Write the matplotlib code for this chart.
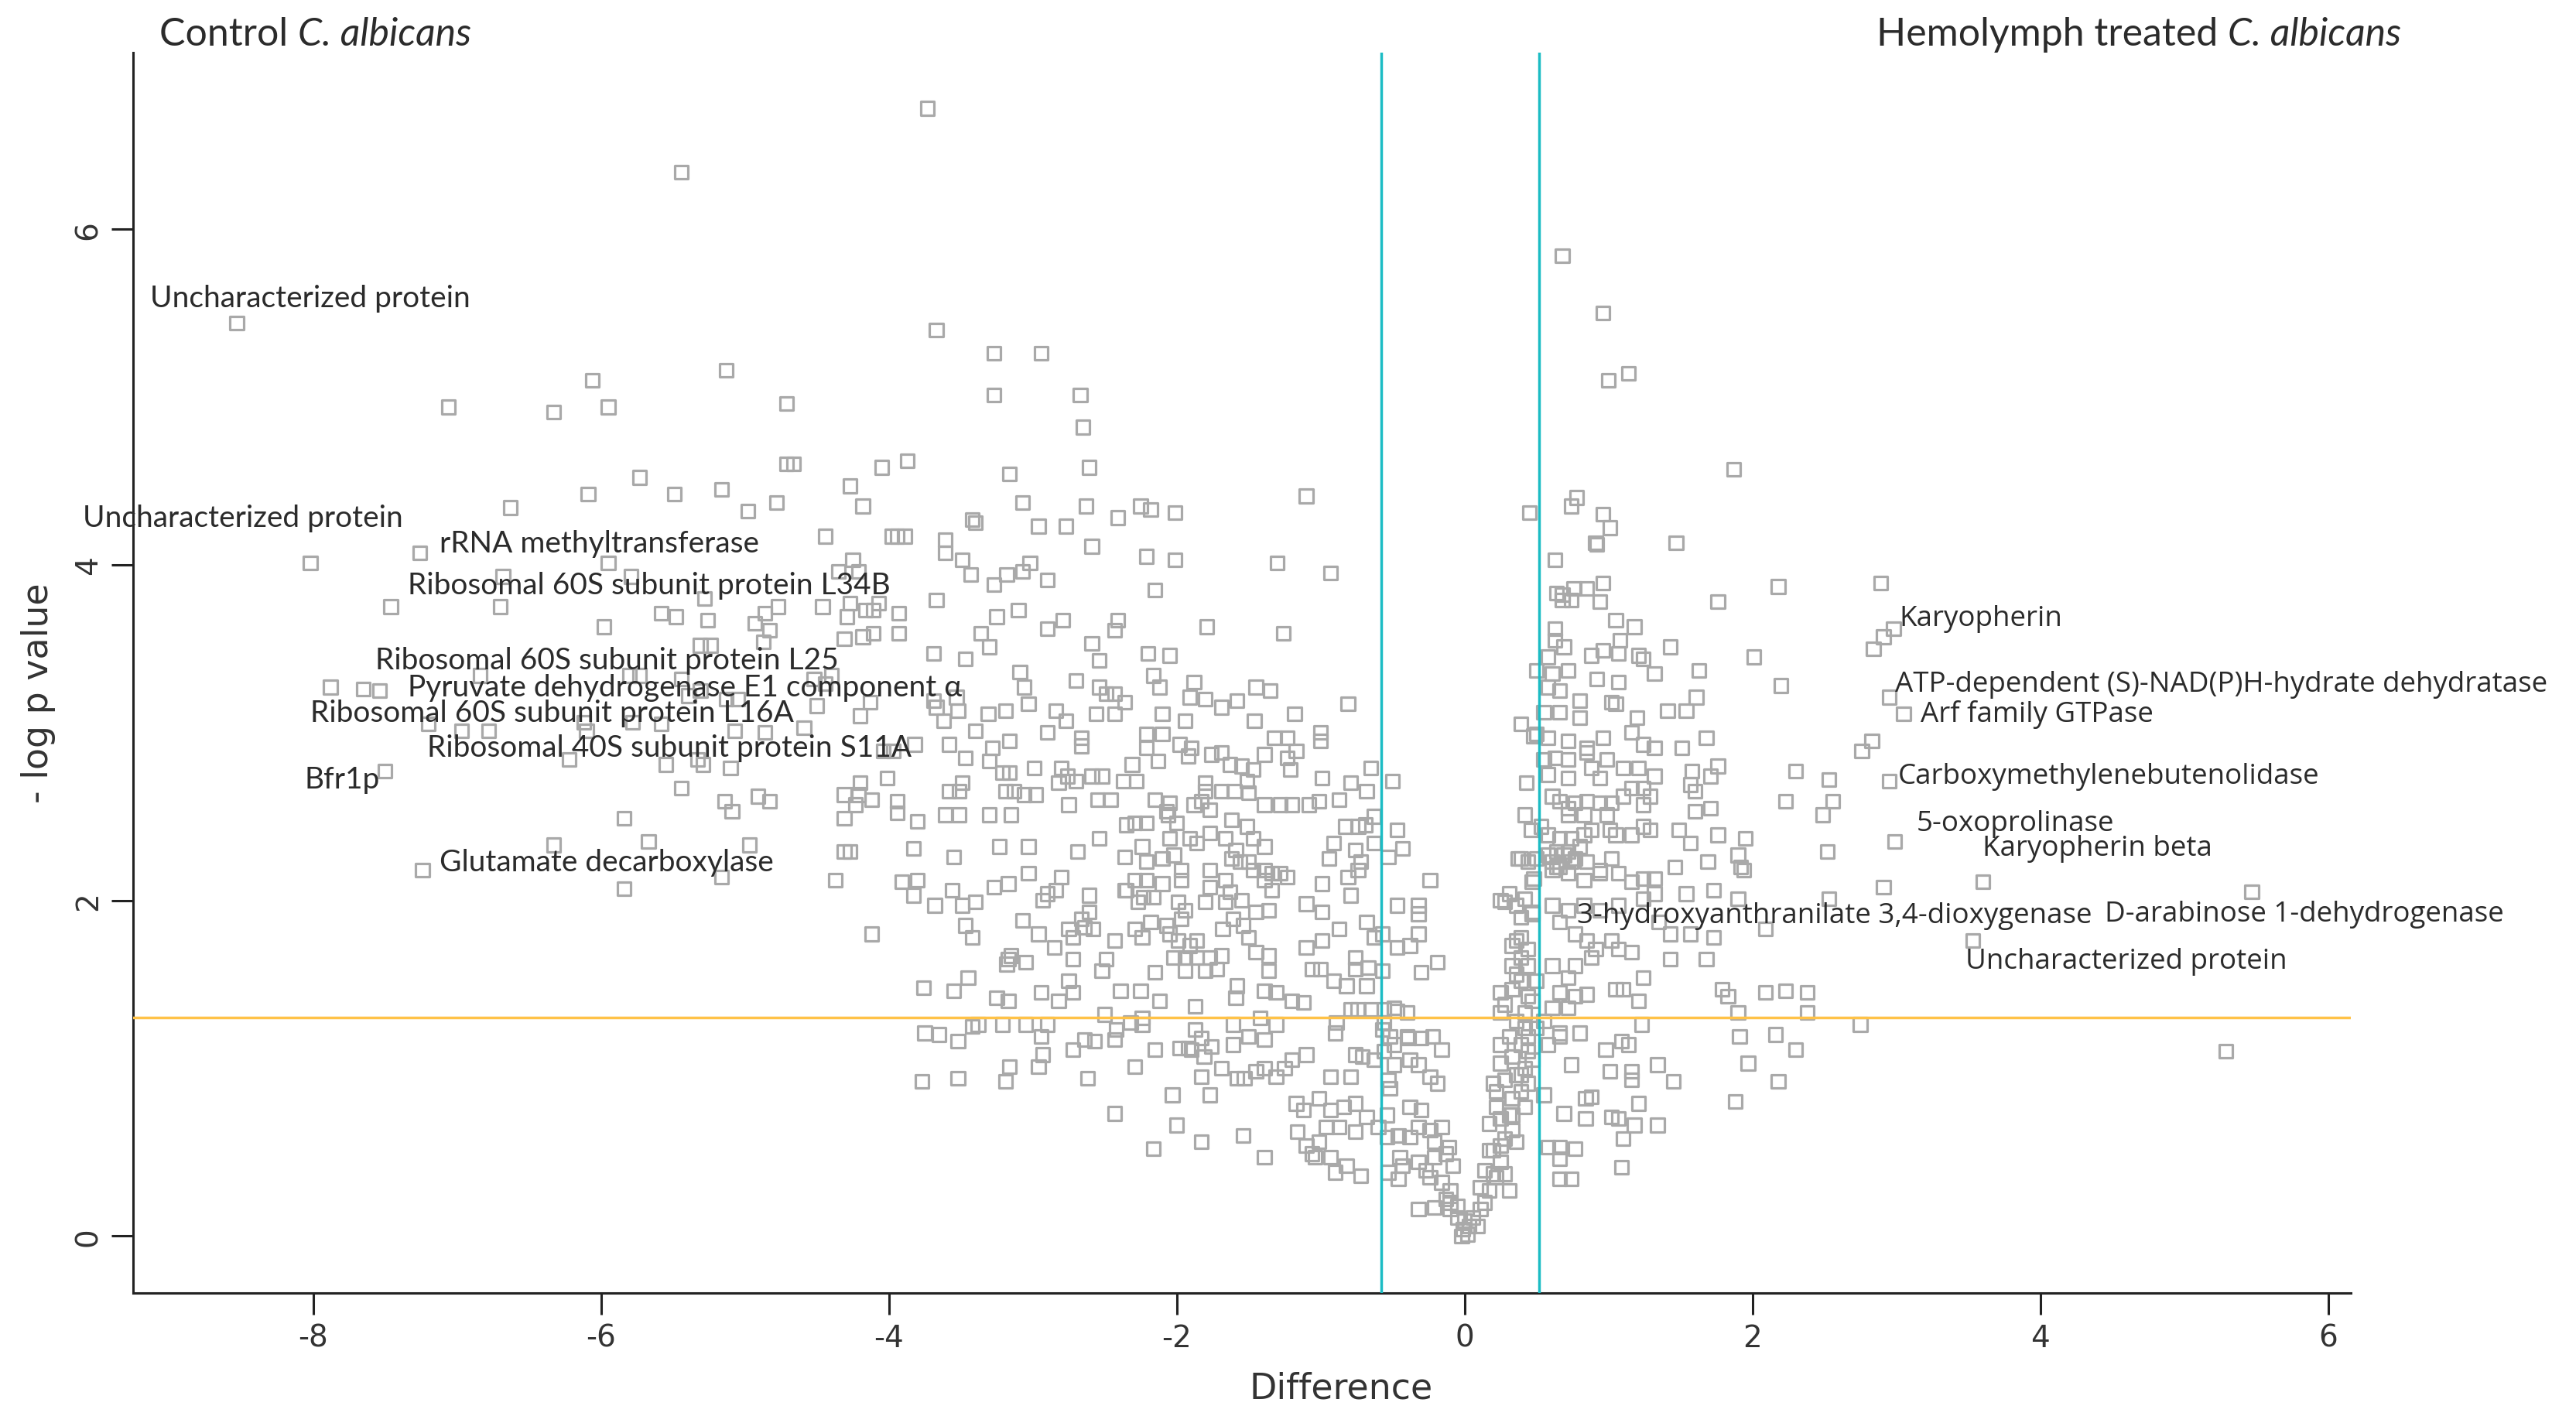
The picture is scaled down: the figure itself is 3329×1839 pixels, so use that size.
import numpy as np
import matplotlib
matplotlib.use("Agg")
import matplotlib.pyplot as plt

plt.rcParams["axes.unicode_minus"] = False

# points: (difference, -log10 p), grouped by region
left_far = [(-5.44, 6.34), (-8.53, 5.44), (-7.06, 4.94), (-6.33, 4.91), (-6.06, 5.10), (-5.95, 4.94),
            (-5.13, 5.16), (-4.71, 4.96), (-4.71, 4.60), (-4.66, 4.60), (-5.73, 4.52),
            (-6.63, 4.34), (-6.09, 4.42), (-5.49, 4.42), (-5.16, 4.45), (-4.78, 4.37), (-4.98, 4.32),
            (-4.44, 4.17), (-8.02, 4.01), (-7.26, 4.07), (-5.95, 4.01), (-7.46, 3.75), (-6.70, 3.75),
            (-6.68, 3.93), (-5.79, 3.93), (-5.28, 3.80), (-5.58, 3.71), (-5.48, 3.69), (-5.26, 3.67),
            (-5.98, 3.63), (-4.93, 3.65), (-4.86, 3.71), (-4.77, 3.75), (-4.83, 3.61), (-4.46, 3.75),
            (-4.87, 3.54), (-5.31, 3.52), (-5.24, 3.52), (-4.31, 3.56), (-7.88, 3.27), (-7.65, 3.26),
            (-7.54, 3.25), (-6.84, 3.34), (-5.80, 3.34), (-5.73, 3.34), (-5.44, 3.32), (-5.39, 3.22),
            (-5.31, 3.25), (-5.13, 3.20), (-5.05, 3.20), (-4.52, 3.32), (-4.44, 3.29), (-4.50, 3.16),
            (-4.40, 3.34), (-7.20, 3.05), (-6.97, 3.01), (-6.78, 3.01), (-6.12, 3.06), (-6.10, 3.01),
            (-5.78, 3.06), (-5.58, 3.05), (-5.07, 3.01), (-4.86, 3.00), (-4.59, 3.03), (-6.22, 2.84),
            (-5.55, 2.81), (-5.33, 2.84), (-5.29, 2.81), (-5.10, 2.79), (-7.50, 2.77), (-5.44, 2.67),
            (-5.14, 2.59), (-5.09, 2.53), (-4.91, 2.62), (-4.83, 2.59), (-5.84, 2.49), (-4.31, 2.63),
            (-4.31, 2.49), (-6.33, 2.33), (-5.67, 2.35), (-4.97, 2.33), (-7.24, 2.18), (-5.16, 2.14),
            (-5.84, 2.07), (-4.37, 2.12), (-4.31, 2.29), (-4.35, 3.96)]

left_upper = [(-3.73, 6.72), (-3.67, 5.40), (-3.27, 5.26), (-2.94, 5.26), (-3.27, 5.01), (-2.67, 5.01),
              (-2.65, 4.82), (-4.27, 4.47), (-4.18, 4.35), (-4.05, 4.58), (-3.87, 4.62), (-3.16, 4.54),
              (-3.07, 4.37), (-2.61, 4.58), (-2.63, 4.35), (-3.42, 4.27), (-3.40, 4.25), (-2.96, 4.23),
              (-2.77, 4.23), (-2.41, 4.28), (-2.25, 4.35), (-2.18, 4.33), (-2.01, 4.31), (-1.10, 4.41),
              (-3.98, 4.17), (-3.94, 4.17), (-3.89, 4.17), (-3.61, 4.15), (-3.61, 4.07), (-3.49, 4.03),
              (-3.43, 3.94), (-2.59, 4.11), (-2.21, 4.05), (-2.01, 4.03), (-1.30, 4.01), (-4.25, 4.03),
              (-4.21, 3.96), (-3.27, 3.88), (-3.18, 3.94), (-3.07, 3.96), (-3.02, 4.01), (-2.90, 3.91),
              (-2.15, 3.85), (-3.67, 3.79), (-4.27, 3.77), (-4.29, 3.69), (-4.16, 3.73), (-4.11, 3.73),
              (-4.07, 3.77), (-3.93, 3.71), (-3.93, 3.59), (-4.18, 3.57), (-4.11, 3.59), (-3.25, 3.69),
              (-3.10, 3.73), (-3.36, 3.59), (-3.30, 3.51), (-3.69, 3.47), (-2.90, 3.62), (-2.79, 3.67),
              (-2.41, 3.67), (-2.43, 3.61), (-2.59, 3.53), (-1.79, 3.63), (-1.26, 3.59), (-2.20, 3.47),
              (-2.05, 3.46), (-3.47, 3.44), (-2.54, 3.43)]

left_mid = [(-3.09, 3.36), (-2.70, 3.31), (-2.16, 3.34), (-2.12, 3.27), (-1.88, 3.30), (-1.91, 3.21),
            (-1.80, 3.20), (-2.54, 3.27), (-2.49, 3.23), (-2.43, 3.23), (-2.36, 3.18), (-1.45, 3.27),
            (-1.35, 3.25), (-1.58, 3.19), (-1.69, 3.15), (-3.06, 3.27), (-3.03, 3.17), (-3.69, 3.19),
            (-3.67, 3.15), (-3.53, 3.21), (-3.52, 3.13), (-4.13, 3.18), (-4.20, 3.10), (-3.31, 3.11),
            (-3.19, 3.13), (-3.62, 3.07), (-2.84, 3.13), (-2.77, 3.07), (-2.56, 3.11), (-2.43, 3.11),
            (-2.10, 3.11), (-1.94, 3.07), (-1.46, 3.07), (-1.18, 3.11), (-2.90, 3.00), (-3.40, 3.01),
            (-2.66, 2.97), (-2.66, 2.92), (-2.21, 2.99), (-2.10, 2.99), (-2.21, 2.91), (-2.13, 2.83),
            (-1.98, 2.93), (-1.90, 2.91), (-1.92, 2.86), (-1.76, 2.87), (-1.69, 2.88), (-1.32, 2.97),
            (-1.23, 2.97), (-1.23, 2.85), (-1.17, 2.89), (-1.39, 2.87), (-3.58, 2.93), (-3.47, 2.85),
            (-3.28, 2.91), (-3.16, 2.95), (-3.30, 2.83), (-3.82, 2.93), (-3.97, 2.89), (-4.04, 2.89),
            (-2.31, 2.81), (-1.63, 2.81), (-1.55, 2.80), (-1.47, 2.78), (-1.21, 2.78), (-2.99, 2.79),
            (-2.80, 2.79), (-3.21, 2.76), (-3.16, 2.76), (-3.13, 2.65), (-2.76, 2.74), (-2.70, 2.71),
            (-2.59, 2.74), (-2.52, 2.74), (-2.82, 2.70), (-2.37, 2.71), (-2.28, 2.71),
            (-4.01, 2.73), (-4.20, 2.70), (-4.21, 2.63), (-4.12, 2.60), (-4.23, 2.57), (-3.94, 2.59),
            (-3.94, 2.52), (-3.80, 2.47), (-3.58, 2.65), (-3.51, 2.65), (-3.49, 2.70), (-3.61, 2.51),
            (-3.51, 2.51), (-3.30, 2.51), (-3.15, 2.51), (-3.19, 2.65), (-3.06, 2.63), (-2.98, 2.63),
            (-2.75, 2.57), (-2.55, 2.60), (-2.46, 2.60), (-2.15, 2.60), (-2.05, 2.58), (-2.06, 2.51),
            (-1.83, 2.59), (-1.88, 2.57), (-1.80, 2.65), (-1.77, 2.54), (-1.69, 2.65), (-1.60, 2.65),
            (-1.50, 2.64), (-1.51, 2.71), (-1.39, 2.57), (-1.28, 2.57), (-1.20, 2.57), (-1.08, 2.57),
            (-1.80, 2.70), (-2.35, 2.45), (-2.29, 2.46), (-2.21, 2.46), (-2.00, 2.46), (-2.07, 2.53),
            (-1.62, 2.48), (-1.51, 2.44),
            (-4.27, 2.29), (-3.83, 2.31), (-3.55, 2.26), (-3.23, 2.32), (-3.03, 2.32), (-2.69, 2.29),
            (-2.54, 2.37), (-2.36, 2.26), (-2.24, 2.32), (-2.10, 2.25), (-2.02, 2.27), (-2.05, 2.37),
            (-1.91, 2.37), (-1.86, 2.34), (-1.77, 2.40), (-1.66, 2.37), (-1.59, 2.30), (-1.56, 2.23),
            (-1.47, 2.37), (-1.39, 2.32), (-1.50, 2.23), (-1.62, 2.25), (-1.47, 2.18), (-1.39, 2.18),
            (-1.34, 2.16), (-1.28, 2.16), (-1.23, 2.14), (-1.39, 2.12), (-1.34, 2.06), (-1.97, 2.18),
            (-1.97, 2.12), (-1.77, 2.18), (-1.77, 2.08), (-1.66, 2.12), (-2.21, 2.23), (-2.21, 2.12),
            (-2.10, 2.10), (-2.29, 2.12), (-2.36, 2.06), (-2.80, 2.14), (-3.03, 2.16), (-3.17, 2.10),
            (-3.27, 2.08), (-3.91, 2.11), (-3.80, 2.12), (-3.83, 2.03)]

left_low = [(-3.68, 1.97), (-3.56, 2.06), (-3.49, 1.97), (-3.40, 1.99), (-2.90, 2.04), (-2.84, 2.06),
            (-2.93, 2.00), (-2.61, 2.03), (-2.61, 1.93), (-2.35, 2.06), (-2.23, 2.02), (-2.16, 2.02),
            (-2.27, 1.99), (-1.99, 1.99), (-1.94, 1.94), (-1.80, 1.99), (-1.55, 2.00), (-1.45, 1.93),
            (-1.36, 1.94), (-1.63, 2.05), (-1.10, 1.98), (-3.07, 1.88), (-2.96, 1.80), (-2.85, 1.72),
            (-2.72, 1.78), (-2.64, 1.84), (-2.58, 1.83), (-2.75, 1.83), (-2.66, 1.89), (-3.47, 1.85),
            (-3.42, 1.78), (-4.12, 1.80), (-2.43, 1.76), (-2.29, 1.83), (-2.24, 1.78), (-2.18, 1.87),
            (-2.07, 1.85), (-2.05, 1.80), (-1.99, 1.76), (-1.91, 1.73), (-1.86, 1.76), (-1.97, 1.89),
            (-1.68, 1.83), (-1.61, 1.89), (-1.54, 1.85), (-1.50, 1.78), (-1.66, 1.99), (-1.10, 1.72),
            (-2.02, 1.66), (-1.94, 1.66), (-1.86, 1.66), (-1.77, 1.66), (-1.69, 1.67), (-1.94, 1.58),
            (-1.80, 1.58), (-1.72, 1.59), (-1.45, 1.69), (-1.36, 1.67), (-1.36, 1.58), (-1.06, 1.59),
            (-3.17, 1.65), (-3.15, 1.67), (-3.05, 1.63), (-3.18, 1.62), (-2.72, 1.65), (-2.75, 1.52),
            (-2.49, 1.65), (-2.52, 1.58), (-2.15, 1.57), (-3.45, 1.54), (-3.55, 1.46), (-3.76, 1.48),
            (-3.25, 1.42), (-3.17, 1.40), (-2.94, 1.45), (-2.82, 1.40), (-2.72, 1.45), (-2.39, 1.46),
            (-2.25, 1.46), (-2.12, 1.40), (-1.87, 1.37), (-1.58, 1.49), (-1.59, 1.42), (-1.39, 1.46),
            (-1.31, 1.45), (-1.20, 1.40), (-1.12, 1.39),
            (-2.50, 1.32), (-2.42, 1.23), (-2.32, 1.27), (-2.24, 1.30), (-2.24, 1.26), (-1.87, 1.23),
            (-1.83, 1.18), (-1.76, 1.13), (-1.90, 1.11), (-1.61, 1.26), (-1.50, 1.19), (-1.42, 1.30),
            (-1.31, 1.26), (-1.39, 1.17), (-1.61, 1.14), (-1.98, 1.12), (-1.92, 1.12), (-2.15, 1.11),
            (-1.81, 1.07), (-1.10, 1.08), (-1.20, 1.05), (-1.25, 1.00), (-1.31, 0.95), (-1.39, 1.00),
            (-1.45, 0.98), (-1.53, 0.94), (-1.58, 0.94), (-1.69, 1.00), (-1.83, 0.95), (-3.75, 1.21),
            (-3.65, 1.20), (-3.52, 1.16), (-3.42, 1.25), (-3.38, 1.26), (-3.21, 1.26), (-3.05, 1.26),
            (-2.90, 1.26), (-2.94, 1.19), (-2.93, 1.08), (-2.96, 1.01), (-3.16, 1.01), (-3.19, 0.92),
            (-3.52, 0.94), (-3.77, 0.92), (-2.72, 1.11), (-2.64, 1.17), (-2.57, 1.16), (-2.62, 0.94),
            (-2.43, 1.17), (-2.29, 1.01),
            (-2.03, 0.84), (-1.77, 0.84), (-2.43, 0.73), (-2.00, 0.66), (-1.54, 0.60), (-1.83, 0.56),
            (-2.16, 0.52), (-1.39, 0.47), (-1.17, 0.79), (-1.12, 0.75), (-1.16, 0.62), (-1.10, 0.54),
            (-1.06, 0.49)]

centre_top = [(0.68, 5.84), (0.96, 5.50), (1.00, 5.10), (1.14, 5.14), (1.87, 4.57), (0.45, 4.31),
              (0.74, 4.35), (0.78, 4.40), (0.96, 4.30), (1.01, 4.22), (0.91, 4.13), (0.92, 4.12),
              (1.47, 4.13), (0.63, 4.03), (-0.93, 3.95), (0.64, 3.83), (0.68, 3.82), (0.76, 3.86),
              (0.85, 3.86), (0.96, 3.89), (0.94, 3.78), (0.74, 3.79), (0.68, 3.79), (1.76, 3.78),
              (2.18, 3.87), (2.89, 3.89), (1.05, 3.67), (1.18, 3.63), (0.63, 3.62), (0.63, 3.55),
              (0.69, 3.51), (1.08, 3.55), (1.07, 3.47), (1.43, 3.51), (0.58, 3.45), (0.88, 3.46),
              (0.96, 3.49), (1.21, 3.46), (1.24, 3.44), (2.01, 3.45), (2.91, 3.57), (2.98, 3.62),
              (2.84, 3.50)]

v_core = [(-0.81, 3.17), (-1.00, 3.00), (-1.00, 2.95), (-0.65, 2.79), (-0.99, 2.73), (-0.79, 2.70),
          (-0.87, 2.60), (-0.68, 2.65), (-1.01, 2.59), (-0.50, 2.71), (-0.83, 2.44), (-0.74, 2.44),
          (-0.69, 2.45), (-0.63, 2.50), (-0.47, 2.42), (-0.43, 2.31), (-0.63, 2.34), (-0.91, 2.34),
          (-0.94, 2.25), (-0.76, 2.30), (-0.72, 2.23), (-0.53, 2.26), (-0.74, 2.18), (-0.24, 2.12),
          (-0.99, 2.10), (-0.81, 2.14), (-0.79, 2.03), (-0.47, 1.97), (-0.32, 1.97), (-0.32, 1.92),
          (-0.99, 1.93), (-0.87, 1.83), (-0.99, 1.76), (-0.68, 1.87), (-0.63, 1.78), (-0.57, 1.80),
          (-0.47, 1.72), (-0.32, 1.80), (-0.19, 1.63), (-0.30, 1.57), (-0.38, 1.73), (-1.00, 1.59),
          (-0.91, 1.52), (-0.76, 1.59), (-0.67, 1.60), (-0.82, 1.49), (-0.68, 1.49), (-0.57, 1.58),
          (-0.76, 1.66), (-0.65, 1.35), (-0.74, 1.35), (-0.79, 1.35), (-0.56, 1.35), (-0.47, 1.34),
          (-0.40, 1.33), (-0.89, 1.27), (-0.56, 1.27), (-0.49, 1.36), (-0.90, 1.21), (-0.57, 1.23),
          (-0.52, 1.19), (-0.40, 1.19), (-0.76, 1.08), (-0.71, 1.07), (-0.79, 0.95), (-0.93, 0.95),
          (-0.63, 1.05), (-0.56, 1.10), (-0.49, 1.14), (-0.39, 1.18), (-0.30, 1.18), (-0.22, 1.19),
          (-0.16, 1.11), (-0.38, 1.05), (-0.32, 1.02), (-0.24, 0.95), (-0.19, 0.91), (-0.49, 1.02),
          (-0.53, 0.93), (-0.52, 0.88), (-1.01, 0.82), (-0.93, 0.75), (-0.84, 0.77), (-0.76, 0.79),
          (-0.68, 0.71), (-0.60, 0.65), (-0.96, 0.65), (-0.87, 0.65), (-0.76, 0.62), (-1.01, 0.56),
          (-1.04, 0.47), (-0.93, 0.47), (-0.82, 0.42), (-0.72, 0.36), (-0.90, 0.38), (-0.54, 0.72),
          (-0.54, 0.59), (-0.46, 0.60), (-0.45, 0.47), (-0.53, 0.38), (-0.46, 0.34), (-0.43, 0.42),
          (-0.38, 0.77), (-0.30, 0.75), (-0.32, 0.65), (-0.24, 0.63), (-0.16, 0.65), (-0.38, 0.59),
          (-0.21, 0.56), (-0.11, 0.53), (-0.32, 0.44), (-0.27, 0.39), (-0.21, 0.47), (-0.13, 0.49),
          (-0.08, 0.42), (-0.24, 0.35), (-0.16, 0.32), (-0.10, 0.27), (-0.32, 0.16), (-0.21, 0.17),
          (-0.10, 0.16), (-0.05, 0.11), (-0.01, 0.04), (0.03, 0.06), (0.06, 0.11), (0.11, 0.16),
          (-0.10, 0.20), (-0.05, 0.18), (0.00, 0.09), (0.09, 0.06), (0.14, 0.20), (-0.13, 0.22),
          (-0.02, 0.00), (0.02, 0.01),
          (0.17, 0.27), (0.22, 0.35), (0.25, 0.44), (0.31, 0.27), (0.14, 0.39), (0.20, 0.51),
          (0.28, 0.58), (0.33, 0.63), (0.25, 0.70), (0.31, 0.72), (0.17, 0.67), (0.22, 0.77),
          (0.33, 0.82), (0.39, 0.86), (0.44, 0.91), (0.22, 0.86), (0.28, 0.93), (0.36, 0.96),
          (0.42, 1.00), (0.47, 1.05), (0.25, 1.03), (0.33, 1.07), (0.39, 1.14), (0.44, 1.19),
          (0.50, 1.24), (0.31, 1.19), (0.36, 1.28), (0.42, 1.33), (0.25, 1.33), (0.25, 1.45),
          (0.33, 1.47), (0.39, 1.52), (0.33, 1.61), (0.39, 1.66), (0.33, 1.73), (0.39, 1.78),
          (0.47, 1.40), (0.50, 1.52), (0.11, 0.29), (0.20, 0.37), (0.28, 0.37), (0.17, 0.51),
          (0.25, 0.54), (0.36, 0.56), (0.33, 0.72), (0.42, 0.77), (0.20, 0.91), (0.39, 0.96),
          (0.44, 1.10), (0.25, 1.14), (0.42, 1.24), (0.28, 1.38), (0.44, 1.43), (0.36, 1.56),
          (0.44, 1.61), (0.36, 1.76), (0.44, 1.71), (0.39, 1.90), (0.47, 1.93), (0.42, 2.01),
          (0.31, 2.04), (0.28, 1.99), (0.47, 2.11), (0.44, 2.23), (0.39, 2.25), (0.42, 2.51),
          (0.43, 2.70), (0.39, 3.05), (0.48, 2.98)]

right_mid = [(0.50, 3.37), (0.61, 3.35), (0.72, 3.37), (0.92, 3.32), (1.07, 3.30), (1.32, 3.35),
             (1.63, 3.37), (2.20, 3.28), (0.58, 3.27), (0.66, 3.25), (0.80, 3.19), (0.80, 3.09),
             (1.02, 3.18), (1.05, 3.17), (0.55, 3.12), (0.66, 3.12), (1.41, 3.13), (1.54, 3.13),
             (1.61, 3.21), (1.20, 3.09), (0.50, 2.99), (0.58, 2.97), (0.72, 2.95), (0.85, 2.91),
             (0.96, 2.97), (1.16, 3.00), (1.24, 2.93), (1.32, 2.91), (1.51, 2.91), (1.68, 2.97),
             (0.55, 2.84), (0.63, 2.85), (0.72, 2.84), (0.85, 2.88), (0.88, 2.79), (0.99, 2.84),
             (1.10, 2.79), (1.21, 2.79), (1.32, 2.74), (1.58, 2.77), (1.71, 2.74), (1.76, 2.80),
             (0.58, 2.75), (0.72, 2.73), (0.94, 2.73), (1.16, 2.67), (1.24, 2.67), (1.29, 2.62),
             (1.57, 2.69), (1.60, 2.65), (1.71, 2.55), (1.60, 2.53), (0.61, 2.62), (0.66, 2.59),
             (0.72, 2.55), (0.77, 2.58), (0.85, 2.59), (0.94, 2.58), (1.02, 2.58), (1.10, 2.62),
             (0.72, 2.51), (0.83, 2.51), (0.99, 2.51), (1.24, 2.57), (0.46, 2.42), (0.53, 2.44),
             (0.58, 2.39), (0.66, 2.37), (0.74, 2.37), (0.83, 2.39), (0.88, 2.42), (1.01, 2.42),
             (1.05, 2.39), (1.16, 2.39), (1.24, 2.44), (1.29, 2.42), (1.49, 2.42), (1.57, 2.34),
             (1.76, 2.39), (1.95, 2.37), (1.90, 2.27), (0.37, 2.25), (0.50, 2.25), (0.58, 2.27),
             (0.61, 2.23), (0.66, 2.20), (0.72, 2.29), (0.77, 2.25), (0.85, 2.23), (0.94, 2.18),
             (1.02, 2.25), (1.07, 2.16), (1.16, 2.11), (1.24, 2.13), (1.32, 2.13), (1.46, 2.20),
             (1.69, 2.23), (1.92, 2.20), (1.94, 2.18), (0.48, 2.13), (0.61, 2.18), (0.72, 2.16),
             (0.83, 2.12), (0.94, 2.16), (0.25, 2.00), (0.36, 1.97), (0.47, 1.92), (0.61, 1.97),
             (0.72, 1.94), (0.83, 1.97), (0.94, 1.94), (1.07, 1.97), (1.24, 2.01), (1.32, 2.04),
             (1.54, 2.04), (1.73, 2.06), (1.90, 2.01), (2.09, 1.83), (2.53, 2.01), (2.91, 2.08),
             (0.66, 1.87), (0.77, 1.80), (0.85, 1.76), (0.91, 1.71), (1.02, 1.76), (1.07, 1.71),
             (1.16, 1.69), (1.35, 1.87), (1.43, 1.80), (1.57, 1.80), (1.73, 1.78), (1.43, 1.65),
             (1.68, 1.65), (1.24, 1.54), (1.05, 1.47), (1.10, 1.47), (1.21, 1.40), (0.61, 1.61),
             (0.72, 1.54), (0.77, 1.61), (0.88, 1.66), (0.66, 1.45), (0.77, 1.43), (0.85, 1.44),
             (0.61, 1.36), (0.72, 1.36), (0.55, 1.28), (0.66, 1.21), (0.80, 1.21), (0.58, 1.14),
             (0.66, 1.19), (0.64, 2.29), (0.69, 2.27), (0.74, 2.23), (0.64, 2.20), (0.80, 2.32),
             (1.23, 1.26), (0.98, 1.11), (1.14, 1.14), (1.09, 1.16), (0.74, 1.02), (1.01, 0.98),
             (1.16, 0.98), (1.16, 0.93), (1.34, 1.02), (1.45, 0.92), (1.21, 0.79), (0.88, 0.83),
             (0.84, 0.82), (0.69, 0.73), (0.84, 0.70), (1.02, 0.71), (1.07, 0.70), (1.18, 0.66),
             (1.34, 0.66), (1.10, 0.58), (1.09, 0.41), (0.55, 0.84), (0.66, 0.34), (0.74, 0.34),
             (0.58, 0.53), (0.66, 0.53), (0.77, 0.52), (0.66, 0.46)]

right_far = [(1.79, 1.47), (1.83, 1.43), (1.90, 1.33), (2.09, 1.45), (2.23, 1.46), (2.38, 1.45),
             (2.38, 1.33), (2.75, 1.26), (1.91, 1.19), (2.16, 1.20), (2.30, 1.11), (1.97, 1.03),
             (2.18, 0.92), (1.88, 0.80), (2.95, 3.21), (3.05, 3.11), (2.30, 2.77), (2.53, 2.72),
             (2.23, 2.59), (2.56, 2.59), (2.49, 2.51), (2.52, 2.29), (2.76, 2.89), (2.83, 2.95),
             (2.95, 2.71), (2.99, 2.35), (3.60, 2.11), (5.47, 2.05), (3.53, 1.76), (5.29, 1.10)]

# protein labels: text, left x, centre y, side of the plot
label_text = ["Uncharacterized protein", "Uncharacterized protein", "rRNA methyltransferase",
              "Ribosomal 60S subunit protein L34B", "Ribosomal 60S subunit protein L25",
              "Pyruvate dehydrogenase E1 component \u03b1", "Ribosomal 60S subunit protein L16A",
              "Ribosomal 40S subunit protein S11A", "Bfr1p", "Glutamate decarboxylase",
              "Karyopherin", "ATP-dependent (S)-NAD(P)H-hydrate dehydratase", "Arf family GTPase",
              "Carboxymethylenebutenolidase", "5-oxoprolinase", "Karyopherin beta",
              "3-hydroxyanthranilate 3,4-dioxygenase", "D-arabinose 1-dehydrogenase",
              "Uncharacterized protein"]
label_x = [-9.13, -9.60, -7.12, -7.34, -7.57, -7.34, -8.02, -7.21, -8.06, -7.12,
           3.02, 2.99, 3.17, 3.01, 3.14, 3.60, 0.78, 4.45, 3.48]
label_y = [5.59, 4.28, 4.13, 3.88, 3.43, 3.27, 3.12, 2.91, 2.72, 2.23,
           3.68, 3.29, 3.11, 2.74, 2.46, 2.31, 1.91, 1.92, 1.64]
label_side = ["left"] * 10 + ["right"] * 9

fc_cut = [-0.58, 0.52]
p_cut = 1.30

fig = plt.figure(figsize=(33.29, 18.40), dpi=100)
ax = fig.add_axes([0.0517, 0.0913, 0.861, 0.871])

pts = np.array(left_far + left_upper + left_mid + left_low + centre_top + v_core + right_mid + right_far)
ax.scatter(pts[:, 0], pts[:, 1], marker="s", s=155, facecolors="none",
           edgecolors="#a9a9a9", linewidths=2.3, zorder=2)

for xc in fc_cut:
    ax.axvline(xc, color="#1cbcc4", lw=2.5, zorder=3)
ax.axhline(p_cut, color="#ffc247", lw=2.5, zorder=3)

for t, x, y, side in zip(label_text, label_x, label_y, label_side):
    fam = "Lato" if side == "left" else "Open Sans"
    size = 28 if side == "left" else 26.5
    ax.text(x, y, t, ha="left", va="center", fontsize=size, family=fam,
            color="#2b2b2b", zorder=4, clip_on=False)

ax.set_xlim(-9.25, 6.16)
ax.set_ylim(-0.34, 7.05)
for s in ["top", "right"]:
    ax.spines[s].set_visible(False)
for s in ["left", "bottom"]:
    ax.spines[s].set_linewidth(2.2)
    ax.spines[s].set_color("#222222")

ax.set_xticks([-8, -6, -4, -2, 0, 2, 4, 6])
ax.set_yticks([0, 2, 4, 6])
ax.tick_params(axis="both", length=20, width=2.2, labelsize=28, color="#222222",
               labelcolor="#333333", pad=8)
for lab in ax.get_yticklabels():
    lab.set_rotation(90)
    lab.set_va("center")

fig.text(0.5205, 0.0245, "Difference", ha="center", va="center", fontsize=33, color="#333333")
fig.text(0.0150, 0.513, "- log p value", ha="center", va="center", rotation=90,
         fontsize=33, color="#333333")

# headers with italic species name
renderer = fig.canvas.get_renderer()
t1 = fig.text(0.062, 0.9755, "Control ", ha="left", va="center", fontsize=36,
              family="Lato", color="#2b2b2b")
bb = t1.get_window_extent(renderer=renderer)
fig.text(bb.x1 / fig.bbox.width, 0.9755, "C. albicans", ha="left", va="center",
         fontsize=36, family="Lato", style="italic", color="#2b2b2b")
t2 = fig.text(0.932, 0.9755, "C. albicans", ha="right", va="center", fontsize=36,
              family="Lato", style="italic", color="#2b2b2b")
bb = t2.get_window_extent(renderer=renderer)
fig.text(bb.x0 / fig.bbox.width, 0.9755, "Hemolymph treated ", ha="right", va="center",
         fontsize=36, family="Lato", color="#2b2b2b")

fig.savefig("out.png", dpi=100, facecolor="white")
